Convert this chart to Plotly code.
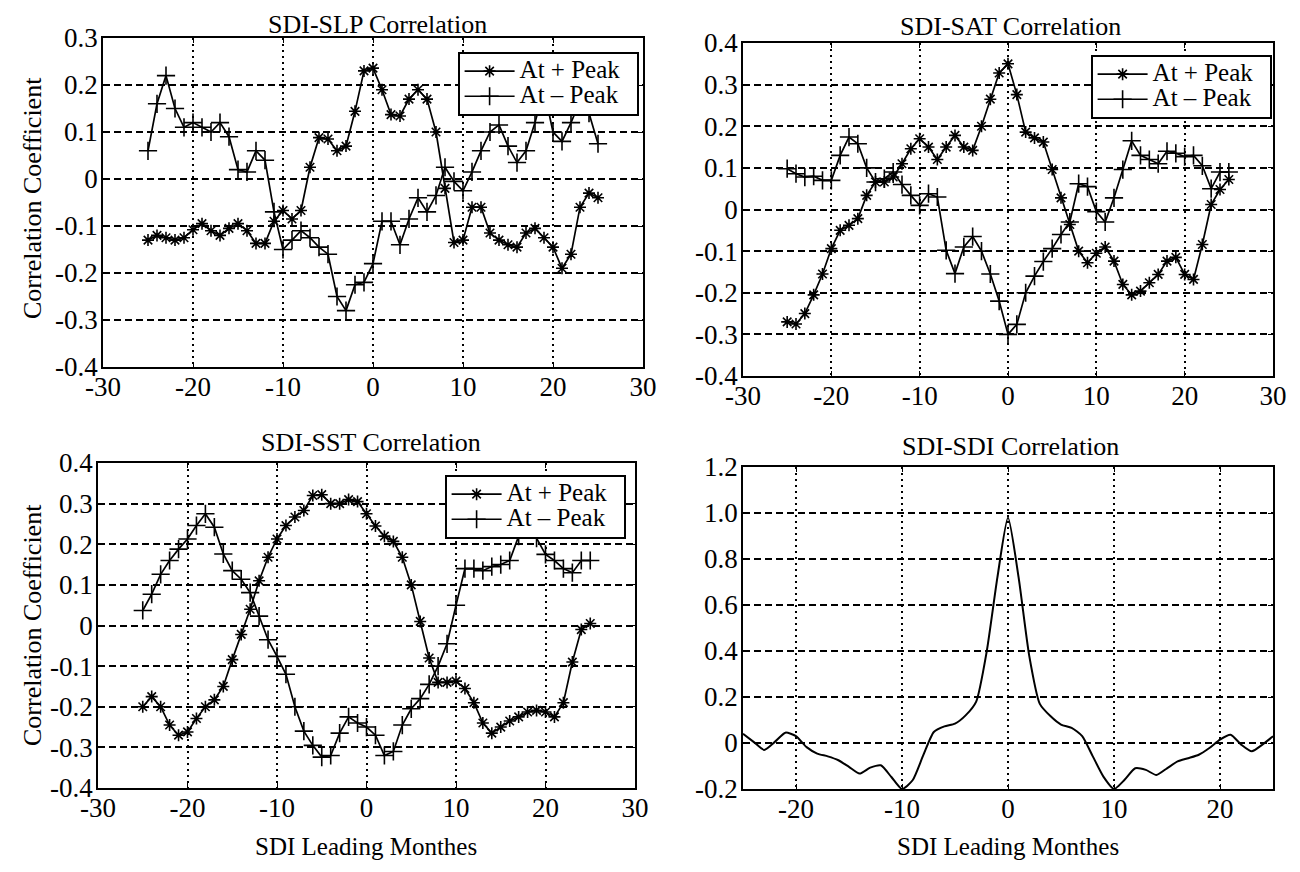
import plotly.graph_objects as go

# ---------------- data ----------------
months = [-25, -24, -23, -22, -21, -20, -19, -18, -17, -16, -15, -14, -13, -12, -11,
          -10, -9, -8, -7, -6, -5, -4, -3, -2, -1, 0, 1, 2, 3, 4, 5, 6, 7, 8, 9,
          10, 11, 12, 13, 14, 15, 16, 17, 18, 19, 20, 21, 22, 23, 24, 25]

slp_pos = [-0.13, -0.12, -0.125, -0.13, -0.125, -0.108, -0.095, -0.11, -0.12, -0.105,
           -0.095, -0.11, -0.137, -0.137, -0.09, -0.067, -0.085, -0.067, 0.025, 0.088,
           0.085, 0.06, 0.07, 0.144, 0.23, 0.236, 0.19, 0.137, 0.134, 0.17,
           0.19, 0.17, 0.10, -0.02, -0.135, -0.13, -0.06, -0.06, -0.115, -0.13,
           -0.14, -0.145, -0.115, -0.105, -0.125, -0.145, -0.19, -0.16, -0.06, -0.03, -0.04]
slp_neg = [0.06, 0.16, 0.22, 0.15, 0.11, 0.12, 0.11, 0.10, 0.12, 0.09,
           0.02, 0.015, 0.06, 0.04, -0.07, -0.15, -0.13, -0.11, -0.125, -0.145,
           -0.16, -0.25, -0.28, -0.225, -0.22, -0.18, -0.09, -0.09, -0.14, -0.085,
           -0.04, -0.07, -0.035, 0.025, -0.005, -0.025, 0.015, 0.06, 0.10, 0.115,
           0.07, 0.035, 0.06, 0.12, 0.19, 0.10, 0.08, 0.12, 0.165, 0.14, 0.075]

sat_pos = [-0.27, -0.275, -0.25, -0.205, -0.155, -0.094, -0.05, -0.038, -0.022, 0.034,
           0.066, 0.066, 0.078, 0.11, 0.146, 0.17, 0.15, 0.12, 0.15, 0.178,
           0.15, 0.142, 0.2, 0.265, 0.328, 0.35, 0.276, 0.186, 0.172, 0.162,
           0.096, 0.028, -0.036, -0.1, -0.128, -0.105, -0.09, -0.124, -0.18, -0.205,
           -0.196, -0.176, -0.156, -0.124, -0.115, -0.156, -0.168, -0.084, 0.012, 0.048, 0.072]
sat_neg = [0.098, 0.086, 0.078, 0.08, 0.07, 0.07, 0.13, 0.174, 0.158, 0.1,
           0.066, 0.074, 0.09, 0.06, 0.034, 0.01, 0.038, 0.03, -0.098, -0.154,
           -0.09, -0.065, -0.1, -0.155, -0.22, -0.3, -0.276, -0.2, -0.16, -0.125,
           -0.094, -0.06, -0.03, 0.062, 0.055, -0.005, -0.03, 0.028, 0.096, 0.165,
           0.13, 0.12, 0.11, 0.14, 0.135, 0.127, 0.13, 0.105, 0.05, 0.09, 0.09]

sst_pos = [-0.2, -0.175, -0.2, -0.245, -0.27, -0.262, -0.229, -0.2, -0.183, -0.15,
           -0.084, -0.022, 0.04, 0.11, 0.168, 0.213, 0.246, 0.267, 0.283, 0.32,
           0.322, 0.3, 0.3, 0.31, 0.305, 0.275, 0.245, 0.22, 0.207, 0.168,
           0.1, 0.01, -0.08, -0.14, -0.14, -0.137, -0.155, -0.19, -0.24, -0.265,
           -0.25, -0.235, -0.225, -0.213, -0.209, -0.213, -0.225, -0.19, -0.09, -0.01, 0.005]
sst_neg = [0.037, 0.077, 0.126, 0.16, 0.188, 0.213, 0.246, 0.275, 0.242, 0.176,
           0.135, 0.114, 0.081, 0.023, -0.035, -0.076, -0.12, -0.2, -0.26, -0.295,
           -0.324, -0.32, -0.265, -0.225, -0.24, -0.25, -0.27, -0.32, -0.31, -0.245,
           -0.205, -0.18, -0.145, -0.1, -0.045, 0.05, 0.14, 0.14, 0.135, 0.145,
           0.15, 0.16, 0.22, 0.255, 0.215, 0.175, 0.16, 0.14, 0.13, 0.16, 0.16]

sdi_auto = [0.04, 0.005, -0.03, 0.005, 0.045, 0.03, -0.018, -0.046, -0.058, -0.075,
            -0.104, -0.133, -0.107, -0.097, -0.148, -0.2, -0.162, -0.054, 0.048, 0.072,
            0.084, 0.12, 0.18, 0.4, 0.72, 0.98, 0.72, 0.38, 0.17, 0.117,
            0.08, 0.066, 0.03, -0.058, -0.146, -0.2, -0.16, -0.11, -0.117, -0.139,
            -0.11, -0.08, -0.066, -0.051, -0.022, 0.015, 0.036, -0.007, -0.036, -0.007, 0.029]

titles = ["SDI-SLP Correlation", "SDI-SAT Correlation", "SDI-SST Correlation", "SDI-SDI Correlation"]
legend_names = ["At + Peak", "At \u2013 Peak"]
ylabel = "Correlation Coefficient"
xlabel = "SDI Leading Monthes"

xticks_wide = [-30, -20, -10, 0, 10, 20, 30]
xticks_wide_text = ["-30", "-20", "-10", "0", "10", "20", "30"]
xticks_narrow = [-20, -10, 0, 10, 20]
xticks_narrow_text = ["-20", "-10", "0", "10", "20"]
yticks_slp = [-0.4, -0.3, -0.2, -0.1, 0, 0.1, 0.2, 0.3]
yticks_slp_text = ["-0.4", "-0.3", "-0.2", "-0.1", "0", "0.1", "0.2", "0.3"]
yticks_corr = [-0.4, -0.3, -0.2, -0.1, 0, 0.1, 0.2, 0.3, 0.4]
yticks_corr_text = ["-0.4", "-0.3", "-0.2", "-0.1", "0", "0.1", "0.2", "0.3", "0.4"]
yticks_sdi = [-0.2, 0, 0.2, 0.4, 0.6, 0.8, 1.0, 1.2]
yticks_sdi_text = ["-0.2", "0", "0.2", "0.4", "0.6", "0.8", "1.0", "1.2"]

# ---------------- layout helpers ----------------
# the page body has an 8px margin, so the figure is placed 8px in from the window edge
OFF = 8
W, H = 1300 - 2 * OFF, 872 - 2 * OFF
FONT = "Liberation Serif, Times New Roman, serif"


def fx(p):
    return (p - OFF) / W


def fy(p):
    return 1 - (p - OFF) / H


panels = [
    dict(x=(103, 643), y=(38, 367), xr=[-30, 30], xt=(xticks_wide, xticks_wide_text),
         yr=[-0.4, 0.3], yt=(yticks_slp, yticks_slp_text)),
    dict(x=(743, 1273), y=(43, 376), xr=[-30, 30], xt=(xticks_wide, xticks_wide_text),
         yr=[-0.4, 0.4], yt=(yticks_corr, yticks_corr_text)),
    dict(x=(98, 635), y=(463, 788), xr=[-30, 30], xt=(xticks_wide, xticks_wide_text),
         yr=[-0.4, 0.4], yt=(yticks_corr, yticks_corr_text)),
    dict(x=(743, 1273), y=(467, 789), xr=[-25, 25], xt=(xticks_narrow, xticks_narrow_text),
         yr=[-0.2, 1.2], yt=(yticks_sdi, yticks_sdi_text)),
]

fig = go.Figure()

axis_common = dict(showline=True, linecolor="black", linewidth=1.6, mirror="ticks",
                   ticks="inside", ticklen=5, tickwidth=1.2, tickcolor="black",
                   showgrid=True, gridcolor="black", gridwidth=1.5, zeroline=False,
                   automargin=False,
                   tickfont=dict(family=FONT, size=27, color="black"), fixedrange=True)

layout_axes = {}
for i, p in enumerate(panels):
    sfx = "" if i == 0 else str(i + 1)
    layout_axes["xaxis" + sfx] = dict(
        axis_common, domain=[fx(p["x"][0]), fx(p["x"][1])], range=p["xr"],
        tickvals=p["xt"][0], ticktext=p["xt"][1], griddash="2px,4px",
        anchor="y" + sfx, ticklabelstandoff=-5)
    layout_axes["yaxis" + sfx] = dict(
        axis_common, domain=[fy(p["y"][1]), fy(p["y"][0])], range=p["yr"],
        tickvals=p["yt"][0], ticktext=p["yt"][1], griddash="7px,4px",
        anchor="x" + sfx, ticklabelstandoff=-2)

LEG_TXT = '<span style="font-size:25px">{}&nbsp;&nbsp;</span>'
series = [(slp_pos, slp_neg), (sat_pos, sat_neg), (sst_pos, sst_neg)]
legend_ids = ["legend", "legend2", "legend3"]
for i, (pos, neg) in enumerate(series):
    sfx = "" if i == 0 else str(i + 1)
    fig.add_trace(go.Scatter(
        x=months, y=pos, name=LEG_TXT.format(legend_names[0]), mode="lines+markers",
        xaxis="x" + sfx, yaxis="y" + sfx, legend=legend_ids[i],
        line=dict(color="black", width=1.7),
        marker=dict(symbol="asterisk-open", size=10, color="black",
                    line=dict(color="black", width=1.6))))
    fig.add_trace(go.Scatter(
        x=months, y=neg, name=LEG_TXT.format(legend_names[1]), mode="lines+markers",
        xaxis="x" + sfx, yaxis="y" + sfx, legend=legend_ids[i],
        line=dict(color="black", width=1.7),
        marker=dict(symbol="cross-thin-open", size=13, color="black",
                    line=dict(color="black", width=1.6))))

fig.add_trace(go.Scatter(
    x=months, y=sdi_auto, mode="lines", showlegend=False,
    xaxis="x4", yaxis="y4", line=dict(color="black", width=2, shape="spline", smoothing=0.6)))

legend_style = dict(xanchor="right", yanchor="top", bgcolor="white", bordercolor="black",
                    borderwidth=1.6, font=dict(family=FONT, size=17, color="black"),
                    tracegroupgap=0, itemwidth=50)

annotations = []
title_pos = [(377, 24), (1010, 26), (371, 442), (1010, 446)]
for t, (ax, ay) in zip(titles, title_pos):
    annotations.append(dict(text=t, x=fx(ax), y=fy(ay), xref="paper", yref="paper",
                            xanchor="center", yanchor="middle", showarrow=False,
                            font=dict(family=FONT, size=26, color="black")))
for ay in (198, 625):
    annotations.append(dict(text=ylabel, x=fx(32), y=fy(ay), xref="paper", yref="paper",
                            xanchor="center", yanchor="middle", showarrow=False, textangle=-90,
                            font=dict(family=FONT, size=26, color="black")))
for ax in (366, 1008):
    annotations.append(dict(text=xlabel, x=fx(ax), y=fy(846), xref="paper", yref="paper",
                            xanchor="center", yanchor="middle", showarrow=False,
                            font=dict(family=FONT, size=25, color="black")))

fig.update_layout(
    width=W, height=H, autosize=False,
    margin=dict(l=0, r=0, t=0, b=0, pad=0, autoexpand=False),
    paper_bgcolor="white", plot_bgcolor="white",
    font=dict(family=FONT, color="black"),
    legend=dict(legend_style, x=fx(639), y=fy(52)),
    legend2=dict(legend_style, x=fx(1272), y=fy(55)),
    legend3=dict(legend_style, x=fx(626), y=fy(475)),
    annotations=annotations,
    **layout_axes,
)

fig.write_html("out.html")
